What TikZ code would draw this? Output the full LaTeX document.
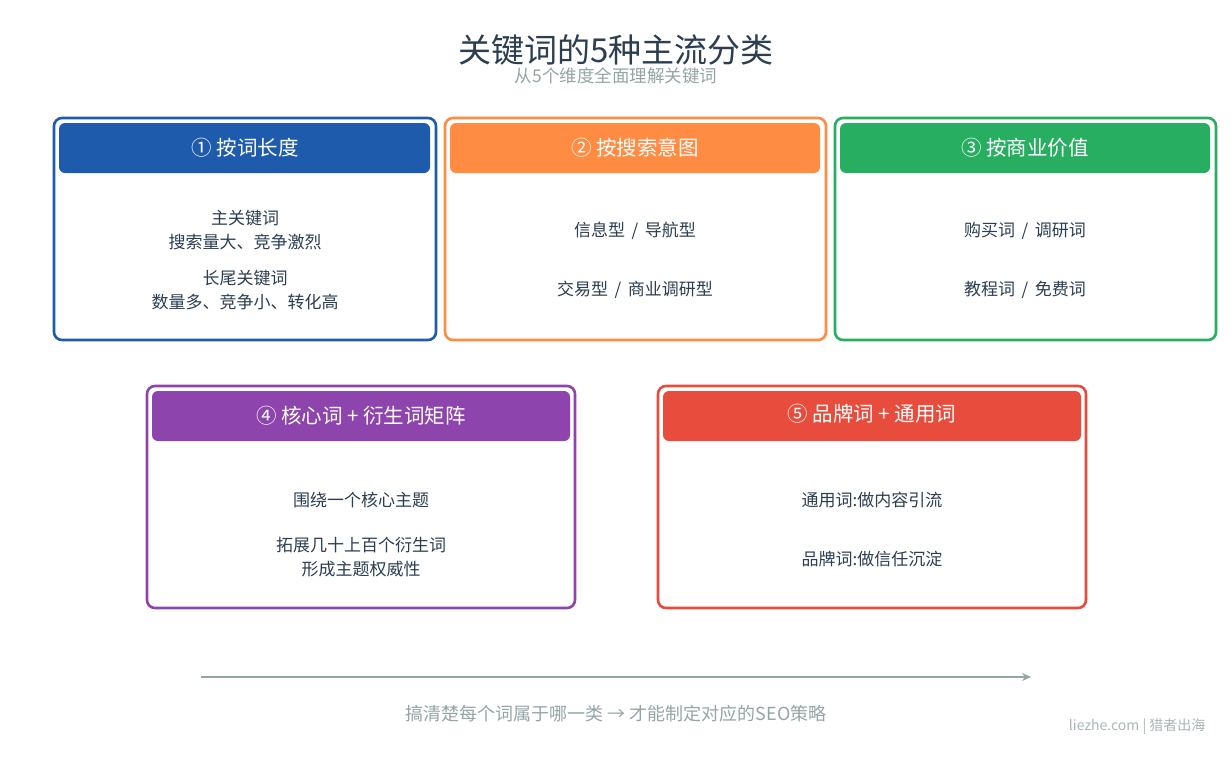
\documentclass[tikz,border=0pt]{standalone}
\usepackage{fontspec}
\usetikzlibrary{arrows.meta}
\setmainfont{Noto Sans CJK SC}
\definecolor{cblue}{HTML}{1F5BAD}
\definecolor{corange}{HTML}{FF8C42}
\definecolor{cgreen}{HTML}{27AE60}
\definecolor{cpurple}{HTML}{8E44AD}
\definecolor{cred}{HTML}{E74C3C}
\definecolor{ctext}{HTML}{2C3E50}
\definecolor{cgray}{HTML}{95A5A6}
\begin{document}
\begin{tikzpicture}[x=1pt,y=-1pt,
  outer/.style={draw=#1,line width=2.6pt,fill=white,rounded corners=8pt},
  hdr/.style={fill=#1,rounded corners=6pt},
  htxt/.style={text=white,font=\fontsize{20.5}{24}\selectfont},
  btxt/.style={text=ctext,font=\fontsize{17}{24}\selectfont,align=center}]
\useasboundingbox[fill=white] (0,0) rectangle (1232,763);
\node[text=ctext,font=\fontsize{33}{38}\selectfont] (title) at (616,50) {关键词的5种主流分类};
\node[text=cgray,font=\fontsize{17.5}{20}\selectfont] (sub) at (616,76) {从5个维度全面理解关键词};
% row 1
\foreach \xa/\xb/\c/\n in {54/436/cblue/a,445/826/corange/b,835/1216/cgreen/c}{
  \draw[outer=\c] (\xa,118) rectangle (\xb,340);
  \fill[hdr=\c] (\xa+5,123) rectangle (\xb-6,173);
}
\node[htxt] (ha) at (245,148) {① 按词长度};
\node[htxt] (hb) at (635,148) {② 按搜索意图};
\node[htxt] (hc) at (1025,148) {③ 按商业价值};
\node[btxt] (a1) at (245,230) {主关键词\\搜索量大、竞争激烈};
\node[btxt] (a2) at (245,290) {长尾关键词\\数量多、竞争小、转化高};
\node[btxt] (b1) at (635,231) {信息型 \,/\, 导航型};
\node[btxt] (b2) at (635,290) {交易型 \,/\, 商业调研型};
\node[btxt] (c1) at (1025,231) {购买词 \,/\, 调研词};
\node[btxt] (c2) at (1025,290) {教程词 \,/\, 免费词};
% row 2
\draw[outer=cpurple] (147,386) rectangle (575,608);
\fill[hdr=cpurple] (152,391) rectangle (570,441);
\draw[outer=cred] (658,386) rectangle (1086,608);
\fill[hdr=cred] (663,391) rectangle (1081,441);
\node[htxt] (hd) at (361,416) {④ 核心词 + 衍生词矩阵};
\node[htxt] (he) at (872,414) {⑤ 品牌词 + 通用词};
\node[btxt] (d1) at (361,500) {围绕一个核心主题};
\node[btxt] (d2) at (361,557) {拓展几十上百个衍生词\\形成主题权威性};
\node[btxt] (e1) at (872,500) {通用词:做内容引流};
\node[btxt] (e2) at (872,559) {品牌词:做信任沉淀};
% arrow
\coordinate (s) at (201,677);
\coordinate (t) at (1031,677);
\draw[cgray,line width=2.5pt,-{Stealth[length=9pt,width=8pt]}] (s) -- (t);
\node[text=cgray,font=\fontsize{18}{20}\selectfont] (cap) at (616,714) {搞清楚每个词属于哪一类 → 才能制定对应的SEO策略};
\node[text=cgray!80,font=\fontsize{14}{16}\selectfont,anchor=east] (ft) at (1209,727) {liezhe.com | 猎者出海};
\end{tikzpicture}
\end{document}
